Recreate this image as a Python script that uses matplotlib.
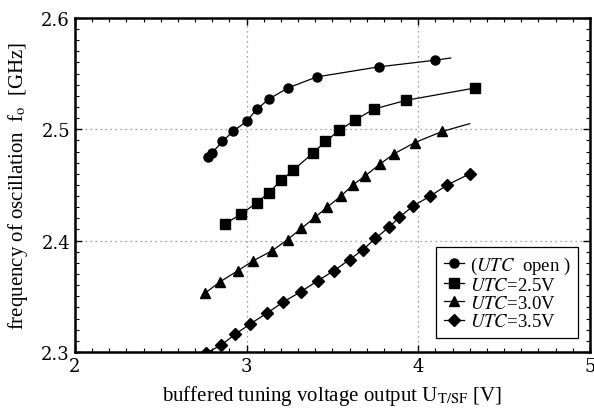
import matplotlib.pyplot as plt
from matplotlib.ticker import MultipleLocator

plt.rcParams['font.family'] = ['Liberation Serif', 'DejaVu Serif']
plt.rcParams['mathtext.fontset'] = 'stix'

# U_TC open
open_x = [2.775, 2.80, 2.86, 2.92, 3.00, 3.06, 3.13, 3.24, 3.41, 3.77, 4.10]
open_y = [2.475, 2.479, 2.489, 2.498, 2.507, 2.518, 2.527, 2.537, 2.547, 2.556, 2.562]
open_end = (4.19, 2.564)

# U_TC = 2.5 V
u25_x = [2.875, 2.97, 3.06, 3.13, 3.20, 3.27, 3.39, 3.46, 3.54, 3.63, 3.74, 3.93, 4.33]
u25_y = [2.415, 2.424, 2.434, 2.443, 2.454, 2.463, 2.479, 2.489, 2.499, 2.508, 2.518, 2.526, 2.537]

# U_TC = 3.0 V
u30_x = [2.76, 2.845, 2.95, 3.04, 3.15, 3.24, 3.32, 3.40, 3.47, 3.55, 3.62, 3.69, 3.78,
         3.86, 3.98, 4.14]
u30_y = [2.353, 2.363, 2.373, 2.382, 2.391, 2.401, 2.411, 2.421, 2.430, 2.440, 2.450,
         2.458, 2.469, 2.478, 2.488, 2.498]
u30_end = (4.30, 2.505)

# U_TC = 3.5 V
u35_x = [2.765, 2.85, 2.935, 3.02, 3.12, 3.215, 3.315, 3.415, 3.51, 3.60, 3.68, 3.75,
         3.83, 3.89, 3.97, 4.07, 4.17, 4.30]
u35_y = [2.299, 2.306, 2.316, 2.325, 2.335, 2.345, 2.354, 2.364, 2.373, 2.383, 2.392,
         2.402, 2.412, 2.421, 2.431, 2.440, 2.450, 2.460]

labels = [r'($UTC$  open )', r'$UTC$=2.5V', r'$UTC$=3.0V', r'$UTC$=3.5V']

fig = plt.figure(figsize=(5.94, 4.10), dpi=100)
ax = fig.add_axes([0.126, 0.139, 0.867, 0.815])

ax.plot(open_x, open_y, 'o-', color='black', lw=0.9, ms=6.5, label=labels[0])
ax.plot(u25_x, u25_y, 's-', color='black', lw=0.9, ms=6.5, label=labels[1])
ax.plot(u30_x, u30_y, '^-', color='black', lw=0.9, ms=7, label=labels[2])
ax.plot(u35_x, u35_y, 'D-', color='black', lw=0.9, ms=6, label=labels[3])

# guide lines running past the last marker
ax.plot([open_x[-1], open_end[0]], [open_y[-1], open_end[1]], color='black', lw=0.9)
ax.plot([u30_x[-1], u30_end[0]], [u30_y[-1], u30_end[1]], color='black', lw=0.9)

ax.set_xlim(2, 5)
ax.set_ylim(2.3, 2.6)
ax.xaxis.set_minor_locator(MultipleLocator(0.1))
ax.yaxis.set_minor_locator(MultipleLocator(0.01))
ax.tick_params(which='both', direction='in', top=True, right=True, labelsize=13)
ax.tick_params(which='major', length=5, width=1)
ax.tick_params(which='minor', length=3, width=0.8)
ax.set_xticks([2, 3, 4, 5])
ax.set_xticklabels(['2', '3', '4', '5'], family='DejaVu Serif')
ax.set_yticks([2.3, 2.4, 2.5, 2.6])
ax.set_yticklabels(['2.3', '2.4', '2.5', '2.6'], family='DejaVu Serif')
for s in ax.spines.values():
    s.set_linewidth(1.8)

ax.grid(True, which='major', color='gray', linestyle=(0, (1, 3)), linewidth=0.9)

ax.set_xlabel(r'buffered tuning voltage output U$_{\rm T/SF}$ [V]', fontsize=15, labelpad=6)
ax.set_ylabel(r'frequency of oscillation  f$_{\rm o}$  [GHz]', fontsize=15, labelpad=8)

leg = ax.legend(loc='lower right', fontsize=13.5, handlelength=1.1, handletextpad=0.3,
                borderpad=0.4, labelspacing=0.05, fancybox=False, framealpha=1,
                edgecolor='black', bbox_to_anchor=(0.995, 0.015))
leg.get_frame().set_linewidth(0.9)

fig.savefig('out.png', dpi=100)
